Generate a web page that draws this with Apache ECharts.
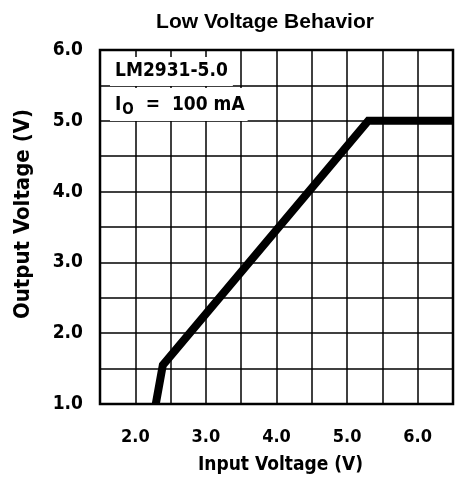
<!DOCTYPE html>
<html>
<head>
<meta charset="utf-8">
<style>
  html, body { margin: 0; padding: 0; background: #fff; }
  #chart { width: 456px; height: 487px; }
</style>
</head>
<body>
<div id="chart"></div>
<script src="https://cdn.jsdelivr.net/npm/echarts@6/dist/echarts.min.js"></script>
<script>
  // Input voltage (V) vs output voltage (V), LM2931-5.0 at 100 mA
  var inputV  = [2.29, 2.39, 5.30, 6.50];
  var outputV = [1.00, 1.55, 5.00, 5.00];

  var xMin = 1.5, xMax = 6.5, yMin = 1.0, yMax = 6.0, step = 0.5;

  var pts = inputV.map(function (x, i) { return [x, outputV[i]]; });
  var font = '"DejaVu Sans Condensed", "Liberation Sans", Arial, sans-serif';

  function lbl(v) {
    return Math.abs(v - Math.round(v)) < 1e-6 ? v.toFixed(1) : '';
  }

  var myChart = echarts.init(document.getElementById('chart'));
  var option = {
    animation: false,
    title: {
      text: 'Low Voltage Behavior',
      left: 260, top: 7, textAlign: 'center',
      textStyle: { fontFamily: '"Liberation Sans", Arial, sans-serif', fontWeight: 'bold', fontSize: 21, color: '#000' }
    },
    grid: {
      left: 100, right: 3, top: 50, bottom: 83,
      outerBoundsMode: 'none', containLabel: false,
      show: true, borderColor: '#000', borderWidth: 2.5
    },
    xAxis: {
      type: 'value', min: xMin, max: xMax, interval: step,
      name: 'Input Voltage (V)', nameLocation: 'middle', nameGap: 52,
      nameTextStyle: { fontFamily: font, fontWeight: 'bold', fontSize: 19, color: '#000', padding: [0, 0, 0, 8] },
      axisLine: { show: false },
      axisTick: { show: false },
      axisLabel: { formatter: lbl, margin: 24, fontFamily: font, fontWeight: 'bold', fontSize: 18, color: '#000' },
      splitLine: { show: true, lineStyle: { color: '#000', width: 1.5 } }
    },
    yAxis: {
      type: 'value', min: yMin, max: yMax, interval: step,
      name: 'Output Voltage (V)', nameLocation: 'middle', nameGap: 66,
      nameTextStyle: { fontFamily: font, fontWeight: 'bold', fontSize: 22, color: '#000', padding: [0, 0, 0, 26] },
      axisLine: { show: false },
      axisTick: { show: false },
      axisLabel: { formatter: lbl, margin: 17, fontFamily: font, fontWeight: 'bold', fontSize: 19, color: '#000' },
      splitLine: { show: true, lineStyle: { color: '#000', width: 1.5 } }
    },
    graphic: [{
      type: 'text', left: 110, top: 57, z: 11,
      style: {
        text: 'LM2931-5.0',
        fontFamily: font, fontWeight: 'bold', fontSize: 19, fill: '#000',
        backgroundColor: '#fff', padding: [5, 5, 5, 5]
      }
    }, {
      type: 'text', left: 110, top: 88, z: 11,
      style: {
        text: '{a|I}{s|O}{a|  =  100 mA}',
        backgroundColor: '#fff', padding: [4, 3, 3, 5],
        rich: {
          a: { fontFamily: font, fontWeight: 'bold', fontSize: 19, fill: '#000', lineHeight: 26 },
          s: { fontFamily: font, fontWeight: 'bold', fontSize: 15, fill: '#000', lineHeight: 26, padding: [10, 0, 0, 1] }
        }
      }
    }],
    series: [{
      type: 'line', data: pts, symbol: 'none',
      lineStyle: { color: '#000', width: 8, join: 'miter' },
      clip: true
    }]
  };
  myChart.setOption(option);
</script>
</body>
</html>
